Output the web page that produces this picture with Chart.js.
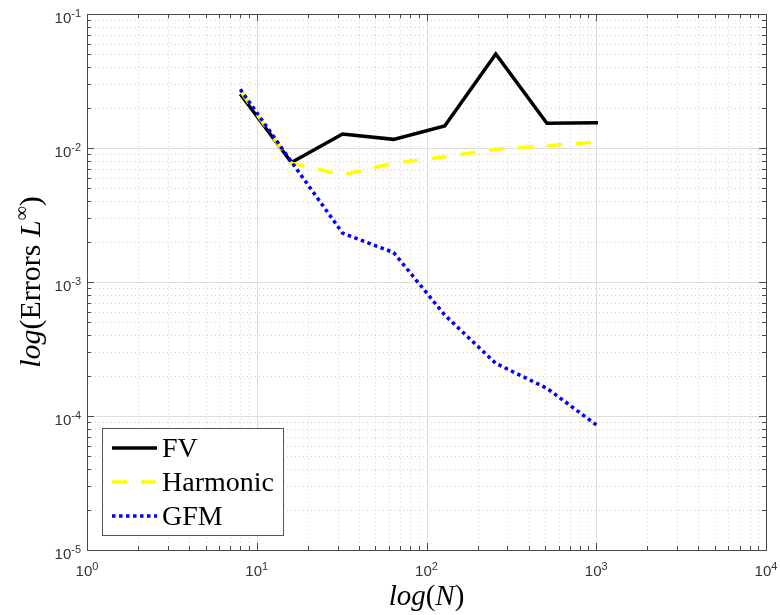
<!DOCTYPE html>
<html>
<head>
<meta charset="utf-8">
<script src="https://cdn.jsdelivr.net/npm/chart.js@4.4.1/dist/chart.umd.min.js"></script>
<style>
  html, body { margin: 0; padding: 0; background: #ffffff; }
  canvas { display: block; }
</style>
</head>
<body>
<canvas id="c" width="780" height="615"></canvas>
<script>
// Grid sizes N and the L-infinity error of each scheme
const gridSizes    = [8, 16, 32, 64, 128, 256, 512, 1024];
const errFV        = [0.0253, 0.0078, 0.0127, 0.0116, 0.0146, 0.0503, 0.0153, 0.0154];
const errHarmonic  = [0.0268, 0.0077, 0.0063, 0.0077, 0.0086, 0.0098, 0.0104, 0.0111];
const errGFM       = [0.0274, 0.0079, 0.00232, 0.00166, 0.000567, 0.000247, 0.000161, 0.000084];
const seriesNames  = ['FV', 'Harmonic', 'GFM'];

// Axis limits (powers of ten) and their decade tick exponents
const xExponents = [0, 1, 2, 3, 4];
const yExponents = [-5, -4, -3, -2, -1];

const toPoints = (ys) => gridSizes.map((n, i) => ({ x: n, y: ys[i] }));

// All 1..9 x 10^k values inside the range given by the decade exponents
function decadeValues(exps) {
  const out = [];
  for (let e = exps[0]; e < exps[exps.length - 1]; e++) {
    for (let m = 1; m <= 9; m++) out.push({ v: m * Math.pow(10, e), major: m === 1 });
  }
  out.push({ v: Math.pow(10, exps[exps.length - 1]), major: true });
  return out;
}

const AXIS_COLOR = '#4a4a4a';
const LABEL_COLOR = '#333333';
const SANS = '"Liberation Sans", Arial, Helvetica, sans-serif';
const SERIF = '"Liberation Serif", "Times New Roman", "DejaVu Serif", serif';

function crisp(p) { return Math.round(p) + 0.5; }

// Draw a run of mixed-style text pieces; returns total width
function drawPieces(ctx, pieces, x, y, measureOnly) {
  let w = 0;
  for (const p of pieces) {
    ctx.font = (p.style || 'normal') + ' ' + p.size + 'px ' + (p.family || SERIF);
    const pw = ctx.measureText(p.t).width;
    if (!measureOnly) ctx.fillText(p.t, x + w, y - (p.rise || 0));
    w += pw;
  }
  return w;
}

const gridPlugin = {
  id: 'logGrid',
  beforeDatasetsDraw(chart) {
    const { ctx, chartArea: a, scales: { x, y } } = chart;
    ctx.save();
    ctx.lineWidth = 1;
    // minor dotted grid
    ctx.strokeStyle = '#d2d2d2';
    ctx.setLineDash([1, 3]);
    for (const t of decadeValues(xExponents)) {
      if (t.major) continue;
      const px = crisp(x.getPixelForValue(t.v));
      ctx.beginPath(); ctx.moveTo(px, a.top); ctx.lineTo(px, a.bottom); ctx.stroke();
    }
    for (const t of decadeValues(yExponents)) {
      if (t.major) continue;
      const py = crisp(y.getPixelForValue(t.v));
      ctx.beginPath(); ctx.moveTo(a.left, py); ctx.lineTo(a.right, py); ctx.stroke();
    }
    // major solid grid
    ctx.setLineDash([]);
    ctx.strokeStyle = '#dedede';
    for (const e of xExponents) {
      const px = crisp(x.getPixelForValue(Math.pow(10, e)));
      ctx.beginPath(); ctx.moveTo(px, a.top); ctx.lineTo(px, a.bottom); ctx.stroke();
    }
    for (const e of yExponents) {
      const py = crisp(y.getPixelForValue(Math.pow(10, e)));
      ctx.beginPath(); ctx.moveTo(a.left, py); ctx.lineTo(a.right, py); ctx.stroke();
    }
    ctx.restore();
  },
  afterDatasetsDraw(chart) {
    const { ctx, chartArea: a, scales: { x, y } } = chart;
    ctx.save();
    // axes box
    ctx.strokeStyle = AXIS_COLOR;
    ctx.lineWidth = 1;
    ctx.strokeRect(crisp(a.left), crisp(a.top), Math.round(a.right - a.left), Math.round(a.bottom - a.top));
    // inward tick marks on all four sides
    ctx.beginPath();
    for (const t of decadeValues(xExponents)) {
      const px = crisp(x.getPixelForValue(t.v));
      const len = t.major ? 7 : 4;
      ctx.moveTo(px, a.bottom); ctx.lineTo(px, a.bottom - len);
      ctx.moveTo(px, a.top); ctx.lineTo(px, a.top + len);
    }
    for (const t of decadeValues(yExponents)) {
      const py = crisp(y.getPixelForValue(t.v));
      const len = t.major ? 7 : 4;
      ctx.moveTo(a.left, py); ctx.lineTo(a.left + len, py);
      ctx.moveTo(a.right, py); ctx.lineTo(a.right - len, py);
    }
    ctx.stroke();

    // tick labels 10^k
    ctx.fillStyle = LABEL_COLOR;
    ctx.textAlign = 'left';
    ctx.textBaseline = 'alphabetic';
    const tickPieces = (e) => [
      { t: '10', size: 15, family: SANS },
      { t: String(e), size: 11, family: SANS, rise: 6 }
    ];
    for (const e of xExponents) {
      const px = x.getPixelForValue(Math.pow(10, e));
      const pcs = tickPieces(e);
      const w = drawPieces(ctx, pcs, 0, 0, true);
      drawPieces(ctx, pcs, px - w / 2, a.bottom + 26);
    }
    for (const e of yExponents) {
      const py = y.getPixelForValue(Math.pow(10, e));
      const pcs = tickPieces(e);
      const w = drawPieces(ctx, pcs, 0, 0, true);
      drawPieces(ctx, pcs, a.left - 6 - w, py + 9);
    }

    // axis titles
    ctx.fillStyle = '#000000';
    const xTitle = [
      { t: 'log', style: 'italic', size: 29 },
      { t: '(', size: 29 },
      { t: 'N', style: 'italic', size: 29 },
      { t: ')', size: 29 }
    ];
    const xw = drawPieces(ctx, xTitle, 0, 0, true);
    drawPieces(ctx, xTitle, (a.left + a.right) / 2 - xw / 2, 605);

    const yTitle = [
      { t: 'log', style: 'italic', size: 30 },
      { t: '(Errors ', size: 30 },
      { t: 'L', style: 'italic', size: 30 },
      { t: '\u221E', size: 20, rise: 12 },
      { t: ')', size: 30 }
    ];
    const yw = drawPieces(ctx, yTitle, 0, 0, true);
    ctx.save();
    ctx.translate(40, (a.top + a.bottom) / 2);
    ctx.rotate(-Math.PI / 2);
    drawPieces(ctx, yTitle, -yw / 2, 0);
    ctx.restore();

    // legend box
    const lx = 102, ly = 428, lw = 181, lh = 107;
    ctx.fillStyle = '#ffffff';
    ctx.fillRect(lx, ly, lw, lh);
    ctx.strokeStyle = '#555555';
    ctx.lineWidth = 1;
    ctx.setLineDash([]);
    ctx.strokeRect(lx + 0.5, ly + 0.5, lw, lh);
    const rows = [448, 482, 516];
    chart.data.datasets.forEach((ds, i) => {
      const ry = rows[i];
      ctx.save();
      ctx.strokeStyle = ds.borderColor;
      ctx.lineWidth = ds.borderWidth;
      ctx.setLineDash(ds.borderDash || []);
      ctx.beginPath(); ctx.moveTo(112, ry); ctx.lineTo(157, ry); ctx.stroke();
      ctx.restore();
      ctx.fillStyle = '#000000';
      ctx.font = '28px ' + SERIF;
      ctx.fillText(ds.label, 162, ry + 9);
    });
    ctx.restore();
  }
};

new Chart(document.getElementById('c'), {
  type: 'line',
  data: {
    datasets: [
      { label: seriesNames[0], data: toPoints(errFV), borderColor: '#000000', borderWidth: 3.5,
        pointRadius: 0, tension: 0, fill: false, order: 3 },
      { label: seriesNames[1], data: toPoints(errHarmonic), borderColor: '#ffff00', borderWidth: 3.5,
        borderDash: [15, 14], pointRadius: 0, tension: 0, fill: false, order: 2 },
      { label: seriesNames[2], data: toPoints(errGFM), borderColor: '#0000ff', borderWidth: 3.5,
        borderDash: [3.5, 3.5], pointRadius: 0, tension: 0, fill: false, order: 1 }
    ]
  },
  options: {
    responsive: false,
    animation: false,
    devicePixelRatio: 1,
    layout: { padding: { left: 87, right: 14, top: 14, bottom: 65 } },
    plugins: { legend: { display: false }, tooltip: { enabled: false } },
    scales: {
      x: { type: 'logarithmic', min: Math.pow(10, xExponents[0]), max: Math.pow(10, xExponents[xExponents.length - 1]), display: false },
      y: { type: 'logarithmic', min: Math.pow(10, yExponents[0]), max: Math.pow(10, yExponents[yExponents.length - 1]), display: false }
    }
  },
  plugins: [gridPlugin]
});
</script>
</body>
</html>
